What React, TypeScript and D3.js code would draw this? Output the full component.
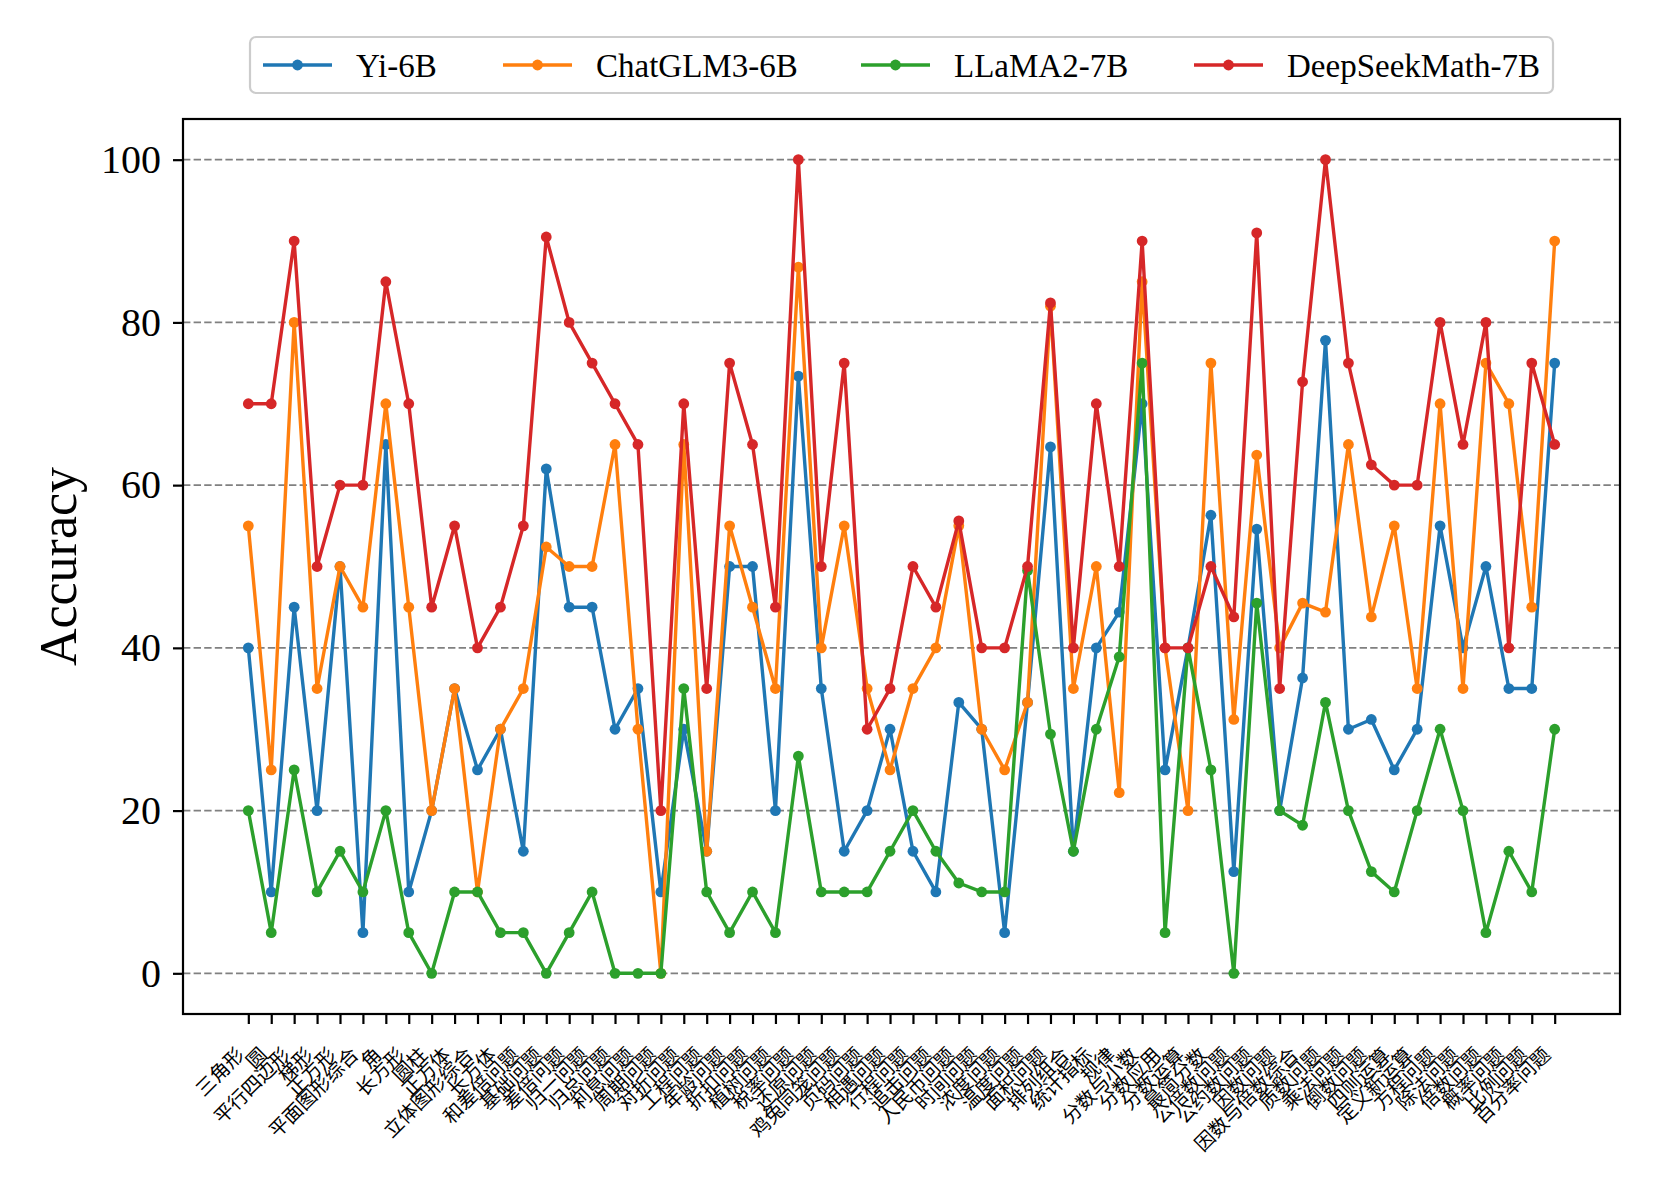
import { useEffect, useRef } from "react";
import * as d3 from "d3";

const categories = [
  "三角形", "圆", "平行四边形", "梯形", "正方形", "平面图形综合", "角", "长方形",
  "圆柱", "正方体", "立体图形综合", "长方体", "和差倍问题", "基础问题", "差倍问题",
  "归一问题", "归总问题", "利息问题", "周期问题", "对折问题", "工程问题", "年龄问题",
  "折扣问题", "植树问题", "税率问题", "还原问题", "鸡兔同笼问题", "页码问题", "相遇问题",
  "行程问题", "追击问题", "人民币问题", "时间问题", "浓度问题", "温度问题", "面积问题",
  "排列组合", "统计指标", "规律", "分数与小数", "分数应用", "分数运算", "最简分数",
  "公倍数问题", "公约数问题", "因数问题", "因数与倍数综合", "质数问题", "乘法问题",
  "倒数问题", "四则运算", "定义新运算", "方程问题", "除法问题", "倍数问题", "概率问题",
  "比例问题", "百分率问题",
];

const yi6b = [
  40, 10, 45, 20, 50, 5, 65, 10, 20, 35, 25, 30, 15, 62, 45, 45, 30, 35, 10, 30,
  15, 50, 50, 20, 73.4, 35, 15, 20, 30, 15, 10, 33.3, 30, 5, 33.3, 64.7, 15, 40, 44.4, 70,
  25, 40, 56.3, 12.5, 54.6, 20, 36.3, 77.8, 30, 31.2, 25, 30, 55, 40, 50, 35, 35, 75,
];
const chatglm3 = [
  55, 25, 80, 35, 50, 45, 70, 45, 20, 35, 10, 30, 35, 52.4, 50, 50, 65, 30, 0, 65,
  15, 55, 45, 35, 86.8, 40, 55, 35, 25, 35, 40, 55, 30, 25, 33.3, 82, 35, 50, 22.2, 85,
  40, 20, 75, 31.2, 63.7, 40, 45.5, 44.4, 65, 43.8, 55, 35, 70, 35, 75, 70, 45, 90,
];
const llama2 = [
  20, 5, 25, 10, 15, 10, 20, 5, 0, 10, 10, 5, 5, 0, 5, 10, 0, 0, 0, 35,
  10, 5, 10, 5, 26.7, 10, 10, 10, 15, 20, 15, 11.1, 10, 10, 49.5, 29.4, 15, 30, 38.9, 75,
  5, 40, 25, 0, 45.5, 20, 18.2, 33.3, 20, 12.5, 10, 20, 30, 20, 5, 15, 10, 30,
];
const deepseek = [
  70, 70, 90, 50, 60, 60, 85, 70, 45, 55, 40, 45, 55, 90.5, 80, 75, 70, 65, 20, 70,
  35, 75, 65, 45, 100, 50, 75, 30, 35, 50, 45, 55.6, 40, 40, 50, 82.4, 40, 70, 50, 90,
  40, 40, 50, 43.8, 91, 35, 72.7, 100, 75, 62.5, 60, 60, 80, 65, 80, 40, 75, 65,
];

const seriesNames = ["Yi-6B", "ChatGLM3-6B", "LLaMA2-7B", "DeepSeekMath-7B"];
const seriesValues = [yi6b, chatglm3, llama2, deepseek];
const colors = ["#1f77b4", "#ff7f0e", "#2ca02c", "#d62728"];
const yTicks = [0, 20, 40, 60, 80, 100];

const W = 1661;
const H = 1186;
const serif = "'Liberation Serif', 'Times New Roman', serif";

export default function App() {
  const ref = useRef<SVGSVGElement | null>(null);

  useEffect(() => {
    const svg = d3.select(ref.current!);
    svg.selectAll("*").remove();

    const left = 183, right = 1620, top = 119, bottom = 1014;
    const n = categories.length;
    const pad = (n - 1) * 0.05;

    const x = d3.scaleLinear().domain([-pad, n - 1 + pad]).range([left, right]);
    const y = d3.scaleLinear().domain([-5, 105]).range([bottom, top]);

    // grid
    svg.append("g")
      .selectAll("line")
      .data(yTicks)
      .join("line")
      .attr("x1", left)
      .attr("x2", right)
      .attr("y1", (d) => y(d))
      .attr("y2", (d) => y(d))
      .attr("stroke", "#808080")
      .attr("stroke-width", 1.8)
      .attr("stroke-dasharray", "7.4 3.2");

    // series
    const line = d3.line<number>().x((_, i) => x(i)).y((d) => y(d));
    seriesValues.forEach((vals, s) => {
      const g = svg.append("g");
      g.append("path")
        .datum(vals)
        .attr("d", line)
        .attr("fill", "none")
        .attr("stroke", colors[s])
        .attr("stroke-width", 3.4)
        .attr("stroke-linejoin", "round");
      g.selectAll("circle")
        .data(vals)
        .join("circle")
        .attr("cx", (_, i) => x(i))
        .attr("cy", (d) => y(d))
        .attr("r", 5.4)
        .attr("fill", colors[s]);
    });

    // frame
    svg.append("rect")
      .attr("x", left)
      .attr("y", top)
      .attr("width", right - left)
      .attr("height", bottom - top)
      .attr("fill", "none")
      .attr("stroke", "#000")
      .attr("stroke-width", 2.2);

    // y axis
    const yAxis = svg.append("g")
      .attr("transform", `translate(${left},0)`)
      .call(d3.axisLeft(y).tickValues(yTicks).tickSize(10).tickPadding(12));
    yAxis.select(".domain").remove();
    yAxis.selectAll("line").attr("stroke-width", 2.2);
    yAxis.selectAll("text")
      .attr("font-family", serif)
      .attr("font-size", 40)
      .attr("fill", "#000");

    // x axis
    const xAxis = svg.append("g")
      .attr("transform", `translate(0,${bottom})`)
      .call(d3.axisBottom(x).tickValues(d3.range(n)).tickSize(10).tickFormat(() => ""));
    xAxis.select(".domain").remove();
    xAxis.selectAll("line").attr("stroke-width", 2.2);

    svg.append("g")
      .selectAll("text")
      .data(categories)
      .join("text")
      .attr("transform", (_, i) => `translate(${x(i) - 3},${bottom + 42}) rotate(-45)`)
      .attr("text-anchor", "end")
      .attr("font-family", "'Noto Sans CJK SC', sans-serif")
      .attr("font-size", 19.5)
      .attr("fill", "#000")
      .text((d) => d);

    // y label
    svg.append("text")
      .attr("transform", `translate(76,${(top + bottom) / 2}) rotate(-90)`)
      .attr("text-anchor", "middle")
      .attr("font-family", serif)
      .attr("font-size", 52)
      .attr("fill", "#000")
      .text("Accuracy");

    // legend
    const legend = svg.append("g");
    legend.append("rect")
      .attr("x", 250)
      .attr("y", 37)
      .attr("width", 1303)
      .attr("height", 56)
      .attr("rx", 6)
      .attr("fill", "#fff")
      .attr("stroke", "#cccccc")
      .attr("stroke-width", 2.2);
    const lx = [263, 503, 861, 1194];
    seriesNames.forEach((name, s) => {
      const item = legend.append("g").attr("transform", `translate(${lx[s]},65)`);
      item.append("line")
        .attr("x1", 0)
        .attr("x2", 69)
        .attr("stroke", colors[s])
        .attr("stroke-width", 3.4);
      item.append("circle").attr("cx", 34.5).attr("r", 5.4).attr("fill", colors[s]);
      item.append("text")
        .attr("x", 93)
        .attr("dy", "0.35em")
        .attr("font-family", serif)
        .attr("font-size", 33)
        .attr("fill", "#000")
        .text(name);
    });
  }, []);

  return (
    <div style={{ position: "absolute", left: 0, top: 0 }}>
      <svg ref={ref} width={W} height={H} style={{ display: "block", background: "#fff" }} />
    </div>
  );
}
